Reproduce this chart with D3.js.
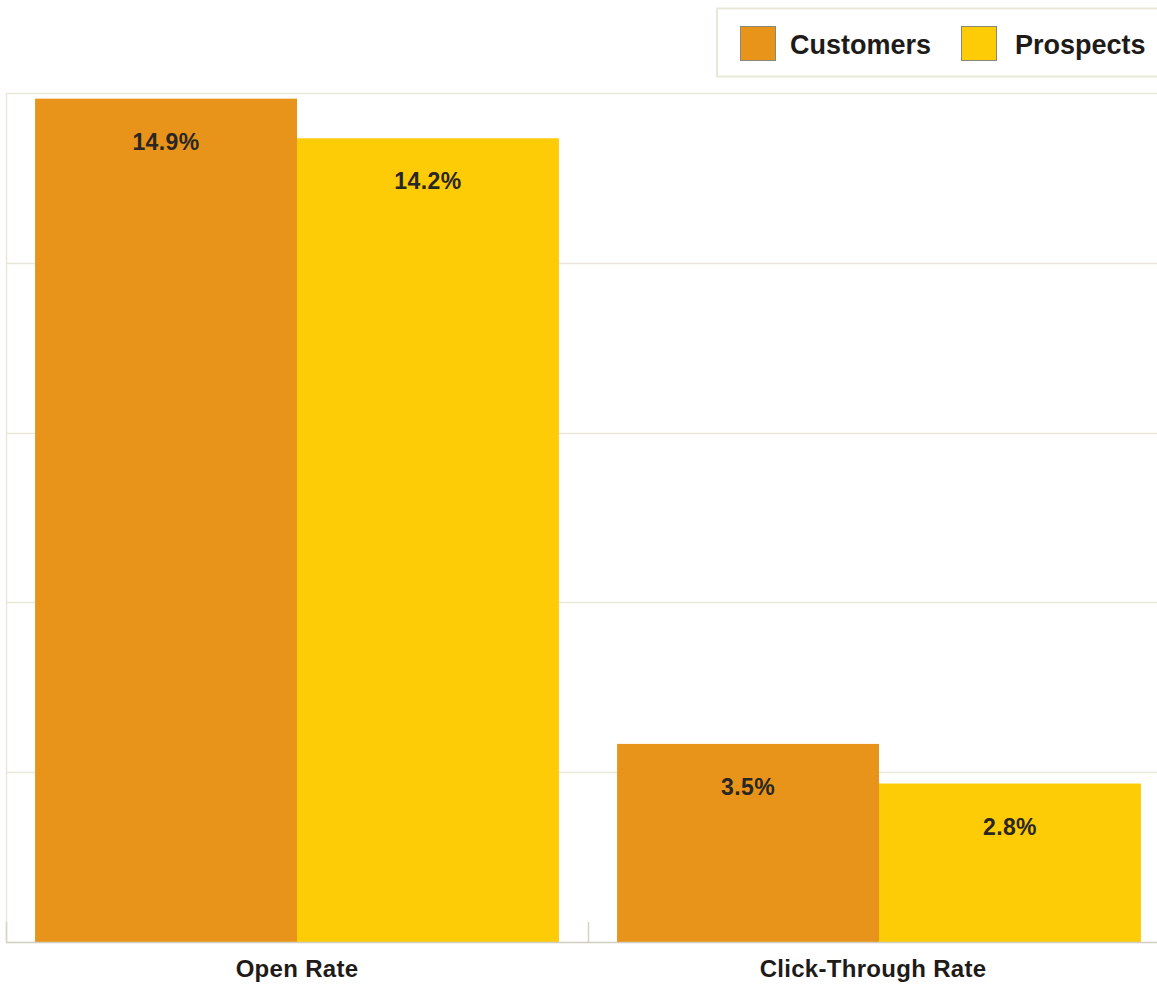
<!DOCTYPE html>
<html>
<head>
<meta charset="utf-8">
<script src="https://cdn.jsdelivr.net/npm/d3@7"></script>
<style>
  html, body { margin: 0; padding: 0; background: #fff; }
  svg { display: block; font-family: "Liberation Sans", Arial, sans-serif; }
</style>
</head>
<body>
<svg id="chart" width="1157" height="984"></svg>
<script>
// Email engagement rates by audience
const categories = ["Open Rate", "Click-Through Rate"];
const seriesNames = ["Customers", "Prospects"];
const customers = [14.9, 3.5];
const prospects = [14.2, 2.8];
const yTicks = [0, 3, 6, 9, 12, 15];
const colors = ["#E8941A", "#FECC07"];

const svg = d3.select("#chart");
const margin = { left: 6, right: -13, top: 92, bottom: 42 };
const W = 1157, H = 984;
const x0 = margin.left, x1 = W - margin.right;
const yBase = H - margin.bottom;

const x = d3.scaleBand().domain(categories).range([x0, x1]).paddingInner(0).paddingOuter(0);
const xs = d3.scaleBand().domain(seriesNames).range([0, x.bandwidth()]).paddingOuter(0.111).paddingInner(0);
const y = d3.scaleLinear().domain([0, 15]).range([yBase, yBase - 849]);

const gridColor = "#e9e7da";

// gridlines
svg.append("g").selectAll("line").data(yTicks.filter(d => d > 0)).join("line")
  .attr("x1", x0).attr("x2", W)
  .attr("y1", d => Math.round(y(d)) + 0.5).attr("y2", d => Math.round(y(d)) + 0.5)
  .attr("stroke", gridColor).attr("stroke-width", 1.5);

// left frame
svg.append("line")
  .attr("x1", x0 + 0.5).attr("x2", x0 + 0.5)
  .attr("y1", Math.round(y(15))).attr("y2", yBase)
  .attr("stroke", gridColor).attr("stroke-width", 1.5);

const data = categories.map((c, i) => ({ cat: c, vals: [customers[i], prospects[i]] }));

// bars
const groups = svg.append("g").selectAll("g").data(data).join("g")
  .attr("transform", d => `translate(${x(d.cat)},0)`);

groups.selectAll("rect").data(d => d.vals.map((v, j) => ({ v, s: seriesNames[j], j })))
  .join("rect")
  .attr("x", d => xs(d.s))
  .attr("width", xs.bandwidth())
  .attr("y", d => y(d.v))
  .attr("height", d => yBase - y(d.v) + 1)
  .attr("fill", d => colors[d.j]);

// value labels inside the bars
groups.selectAll("text").data(d => d.vals.map((v, j) => ({ v, s: seriesNames[j], j })))
  .join("text")
  .attr("x", d => xs(d.s) + xs.bandwidth() / 2)
  .attr("y", d => y(d.v) + 51)
  .attr("text-anchor", "middle")
  .attr("font-size", 23)
  .attr("font-weight", "bold")
  .attr("letter-spacing", 0.4)
  .attr("fill", "#2a2622")
  .text(d => d.v.toFixed(1) + "%");

// x axis baseline and ticks
const axis = svg.append("g");
axis.append("line")
  .attr("x1", x0).attr("x2", W)
  .attr("y1", yBase + 0.5).attr("y2", yBase + 0.5)
  .attr("stroke", "#cfccc0").attr("stroke-width", 1.5);
axis.selectAll("line.tick").data([x0, x(categories[1])]).join("line")
  .attr("class", "tick")
  .attr("x1", d => d + 0.5).attr("x2", d => d + 0.5)
  .attr("y1", yBase - 20).attr("y2", yBase)
  .attr("stroke", "#d6d3c6").attr("stroke-width", 1.5);

axis.selectAll("text").data(categories).join("text")
  .attr("x", d => x(d) + x.bandwidth() / 2 - (d === categories[1] ? 6 : 0))
  .attr("y", yBase + 35)
  .attr("text-anchor", "middle")
  .attr("font-size", 24)
  .attr("font-weight", "bold")
  .attr("letter-spacing", 0.3)
  .attr("fill", "#1e1b18")
  .text(d => d);

// legend
const legend = svg.append("g");
legend.append("rect")
  .attr("x", 717).attr("y", 8.5).attr("width", 460).attr("height", 68)
  .attr("fill", "#fff").attr("stroke", gridColor).attr("stroke-width", 2);
const legendItems = [{ name: seriesNames[0], sx: 740, tx: 790 }, { name: seriesNames[1], sx: 961, tx: 1015 }];
legendItems.forEach((it, i) => {
  legend.append("rect")
    .attr("x", it.sx + 0.5).attr("y", 26.5).attr("width", 35).attr("height", 34)
    .attr("fill", colors[i]).attr("stroke", "#8a8678").attr("stroke-width", 1);
  legend.append("text")
    .attr("x", it.tx).attr("y", 54)
    .attr("font-size", 27)
    .attr("font-weight", "bold")
    .attr("fill", "#1e1b18")
    .text(it.name);
});
</script>
</body>
</html>
